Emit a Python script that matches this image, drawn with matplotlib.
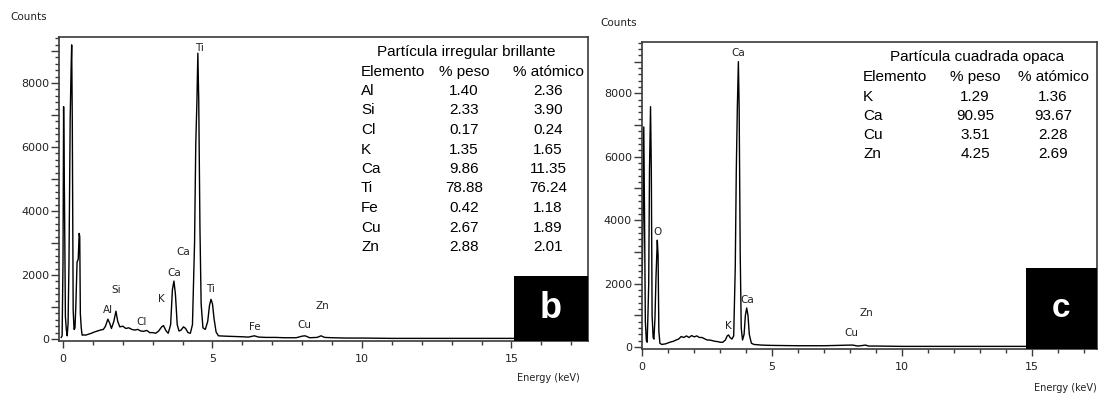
"""
EDS spectra of two particles (panels b and c) with composition tables.
"""
import matplotlib
matplotlib.use("Agg")
import matplotlib.pyplot as plt
from matplotlib.ticker import MultipleLocator, FuncFormatter
from matplotlib.patches import Rectangle

# ---- data (energy in keV, counts in thousands) ----
energy_b = [-0.06, -0.03, 0.00, 0.02, 0.05, 0.08, 0.11, 0.14, 0.17, 0.20, 0.24, 0.27,
            0.29, 0.31, 0.34, 0.37, 0.40, 0.43, 0.47, 0.51, 0.54, 0.56, 0.58, 0.61,
            0.64, 0.70, 0.75, 0.85, 0.95, 1.05, 1.15, 1.25, 1.35, 1.42, 1.50, 1.56,
            1.62, 1.70, 1.77, 1.83, 1.90, 2.00, 2.10, 2.20, 2.30, 2.40, 2.50, 2.60,
            2.70, 2.80, 2.90, 3.00, 3.10, 3.20, 3.30, 3.36, 3.45, 3.52, 3.60, 3.66,
            3.71, 3.76, 3.82, 3.88, 3.95, 4.03, 4.10, 4.18, 4.26, 4.33, 4.40, 4.44,
            4.48, 4.51, 4.54, 4.58, 4.62, 4.68, 4.76, 4.84, 4.90, 4.95, 5.00, 5.05,
            5.12, 5.20, 5.40, 5.70, 6.00, 6.20, 6.40, 6.55, 6.80, 7.10, 7.40, 7.80,
            8.00, 8.10, 8.25, 8.50, 8.63, 8.75, 9.00, 9.50, 10.0, 11.0, 12.0, 13.0,
            14.0, 15.0, 16.0, 17.6]
counts_b = [0.05, 0.10, 2.40, 7.26, 4.30, 0.70, 0.30, 0.10, 0.50, 2.40, 6.90, 8.40,
            9.19, 6.90, 0.90, 0.30, 0.34, 1.06, 2.40, 2.50, 3.30, 3.20, 0.80, 0.35,
            0.12, 0.13, 0.12, 0.15, 0.18, 0.22, 0.25, 0.28, 0.30, 0.40, 0.62, 0.50,
            0.33, 0.55, 0.87, 0.55, 0.38, 0.40, 0.33, 0.35, 0.30, 0.28, 0.30, 0.25,
            0.24, 0.27, 0.20, 0.20, 0.18, 0.25, 0.38, 0.42, 0.25, 0.18, 0.45, 1.55,
            1.81, 1.40, 0.45, 0.25, 0.28, 0.38, 0.33, 0.20, 0.18, 0.45, 3.00, 6.06,
            7.46, 8.93, 7.46, 3.50, 1.10, 0.35, 0.30, 0.55, 1.05, 1.24, 1.10, 0.65,
            0.22, 0.10, 0.09, 0.08, 0.07, 0.06, 0.10, 0.06, 0.05, 0.05, 0.04, 0.04,
            0.09, 0.10, 0.04, 0.05, 0.10, 0.05, 0.04, 0.03, 0.03, 0.02, 0.02, 0.02,
            0.02, 0.02, 0.02, 0.02]

energy_c = [0.00, 0.03, 0.06, 0.09, 0.12, 0.16, 0.19, 0.22, 0.25, 0.28, 0.32, 0.35,
            0.38, 0.42, 0.45, 0.49, 0.53, 0.58, 0.61, 0.64, 0.68, 0.75, 0.90, 1.00,
            1.10, 1.20, 1.30, 1.40, 1.50, 1.60, 1.70, 1.80, 1.90, 2.00, 2.10, 2.20,
            2.30, 2.40, 2.50, 2.60, 2.70, 2.80, 2.90, 3.00, 3.10, 3.20, 3.27, 3.32,
            3.38, 3.45, 3.52, 3.58, 3.62, 3.66, 3.70, 3.73, 3.77, 3.81, 3.86, 3.92,
            3.97, 4.02, 4.07, 4.12, 4.20, 4.30, 4.60, 5.00, 6.00, 7.00, 8.00, 8.10,
            8.30, 8.60, 8.70, 9.00, 10.0, 12.0, 14.0, 17.6]
counts_c = [2.30, 4.00, 6.94, 4.00, 0.80, 0.20, 0.15, 1.00, 2.00, 5.58, 7.58, 5.58,
            1.00, 0.30, 0.25, 0.90, 2.20, 3.37, 2.90, 0.50, 0.12, 0.08, 0.10, 0.13,
            0.16, 0.18, 0.22, 0.25, 0.33, 0.30, 0.35, 0.30, 0.36, 0.32, 0.35, 0.30,
            0.30, 0.26, 0.22, 0.22, 0.20, 0.18, 0.17, 0.15, 0.15, 0.22, 0.35, 0.38,
            0.30, 0.25, 0.35, 2.50, 5.58, 7.54, 9.00, 7.54, 3.00, 0.60, 0.22, 0.40,
            1.00, 1.23, 1.00, 0.40, 0.12, 0.08, 0.06, 0.05, 0.04, 0.04, 0.06, 0.06,
            0.03, 0.06, 0.03, 0.03, 0.02, 0.02, 0.02, 0.02]

# peak labels: (symbol, energy keV, height in counts)
peaks_b = [("Ti", 4.55, 9100), ("Al", 1.50, 900), ("Si", 1.77, 1530), ("Cl", 2.64, 530),
           ("K", 3.30, 1250), ("Ca", 3.71, 2060), ("Ca", 4.01, 2720), ("Ti", 4.94, 1560),
           ("Fe", 6.43, 370), ("Cu", 8.06, 440), ("Zn", 8.66, 1030)]
peaks_c = [("Ca", 3.71, 9270), ("O", 0.59, 3630), ("K", 3.32, 660), ("Ca", 4.05, 1480),
           ("Cu", 8.05, 440), ("Zn", 8.63, 1070)]

# composition tables
title_b = "Partícula irregular brillante"
elem_b = ["Al", "Si", "Cl", "K", "Ca", "Ti", "Fe", "Cu", "Zn"]
peso_b = ["1.40", "2.33", "0.17", "1.35", "9.86", "78.88", "0.42", "2.67", "2.88"]
atom_b = ["2.36", "3.90", "0.24", "1.65", "11.35", "76.24", "1.18", "1.89", "2.01"]

title_c = "Partícula cuadrada opaca"
elem_c = ["K", "Ca", "Cu", "Zn"]
peso_c = ["1.29", "90.95", "3.51", "4.25"]
atom_c = ["1.36", "93.67", "2.28", "2.69"]

# ---- figure ----
W, H = 1099, 396
fig = plt.figure(figsize=(W / 100, H / 100), dpi=100)


def fx(px):
    return px / W


def fy(py):
    return 1 - py / H


ax_b = fig.add_axes([fx(59), fy(341), fx(588 - 59), (341 - 37) / H])
ax_c = fig.add_axes([fx(641.7), fy(349), fx(1097 - 641.7), (349 - 42) / H])

frame = "#3a3a3a"


def style(ax, xlim, ylim):
    ax.set_xlim(*xlim)
    ax.set_ylim(*ylim)
    ax.xaxis.set_major_locator(MultipleLocator(5))
    ax.xaxis.set_minor_locator(MultipleLocator(1))
    ax.yaxis.set_major_locator(MultipleLocator(1000))
    ax.yaxis.set_minor_locator(MultipleLocator(200))
    ax.yaxis.set_major_formatter(
        FuncFormatter(lambda v, p: f"{int(round(v))}" if round(v) % 2000 == 0 else ""))
    ax.tick_params(which="both", color=frame, width=1, direction="out",
                   labelsize=8, labelcolor="#222")
    ax.tick_params(axis="y", which="major", length=6, pad=1)
    ax.tick_params(axis="x", which="major", length=5, pad=4)
    ax.tick_params(which="minor", length=3)
    for s in ax.spines.values():
        s.set_color(frame)
        s.set_linewidth(1.2)


for ax, e, c, pk in [(ax_b, energy_b, counts_b, peaks_b), (ax_c, energy_c, counts_c, peaks_c)]:
    ax.plot(e, [v * 1000 for v in c], color="black", lw=1.0)
    for name, xe, yc in pk:
        ax.text(xe, yc, name, ha="center", va="center", fontsize=7.5, color="#222")

style(ax_b, (-0.134, 17.56), (-62, 9437))
style(ax_c, (-0.02, 17.5), (-63, 9620))

# black corner boxes with the panel letter
for ax, x0, h, letter, size in [(ax_b, 0.860, 0.214, "b", 26), (ax_c, 0.844, 0.264, "c", 24)]:
    ax.add_patch(Rectangle((x0, 0), 1 - x0, h, transform=ax.transAxes,
                           facecolor="black", edgecolor="none", zorder=4))
    ax.text((x0 + 1) / 2, h / 2, letter, transform=ax.transAxes, ha="center",
            va="center", color="white", fontsize=size, fontweight="bold",
            family="Liberation Sans", zorder=5)

# axis captions
fig.text(fx(10), fy(17), "Counts", fontsize=7.5, va="center", color="#222")
fig.text(fx(600), fy(23), "Counts", fontsize=7.5, va="center", color="#222")
fig.text(fx(580), fy(378), "Energy (keV)", fontsize=7, ha="right", va="center", color="#222")
fig.text(fx(1097), fy(388), "Energy (keV)", fontsize=7, ha="right", va="center", color="#222")

# composition tables
tkw = dict(fontsize=11, family="Liberation Sans", va="center", color="black")


def table(title, elem, peso, atom, xl, xp, xa, xt, yt, y0, dy):
    fig.text(fx(xt), fy(yt), title, ha="center", **tkw)
    fig.text(fx(xl), fy(yt + 20), "Elemento", ha="left", **tkw)
    fig.text(fx(xp), fy(yt + 20), "% peso", ha="center", **tkw)
    fig.text(fx(xa), fy(yt + 20), "% atómico", ha="center", **tkw)
    for i, (el, p, a) in enumerate(zip(elem, peso, atom)):
        y = y0 + i * dy
        fig.text(fx(xl), fy(y), el, ha="left", **tkw)
        fig.text(fx(xp), fy(y), p, ha="center", **tkw)
        fig.text(fx(xa), fy(y), a, ha="center", **tkw)


table(title_b, elem_b, peso_b, atom_b, 361, 464, 548, 466, 52, 91, 19.5)
table(title_c, elem_c, peso_c, atom_c, 863, 975, 1053, 977, 57, 97, 19)

fig.savefig("out.png", dpi=100)
